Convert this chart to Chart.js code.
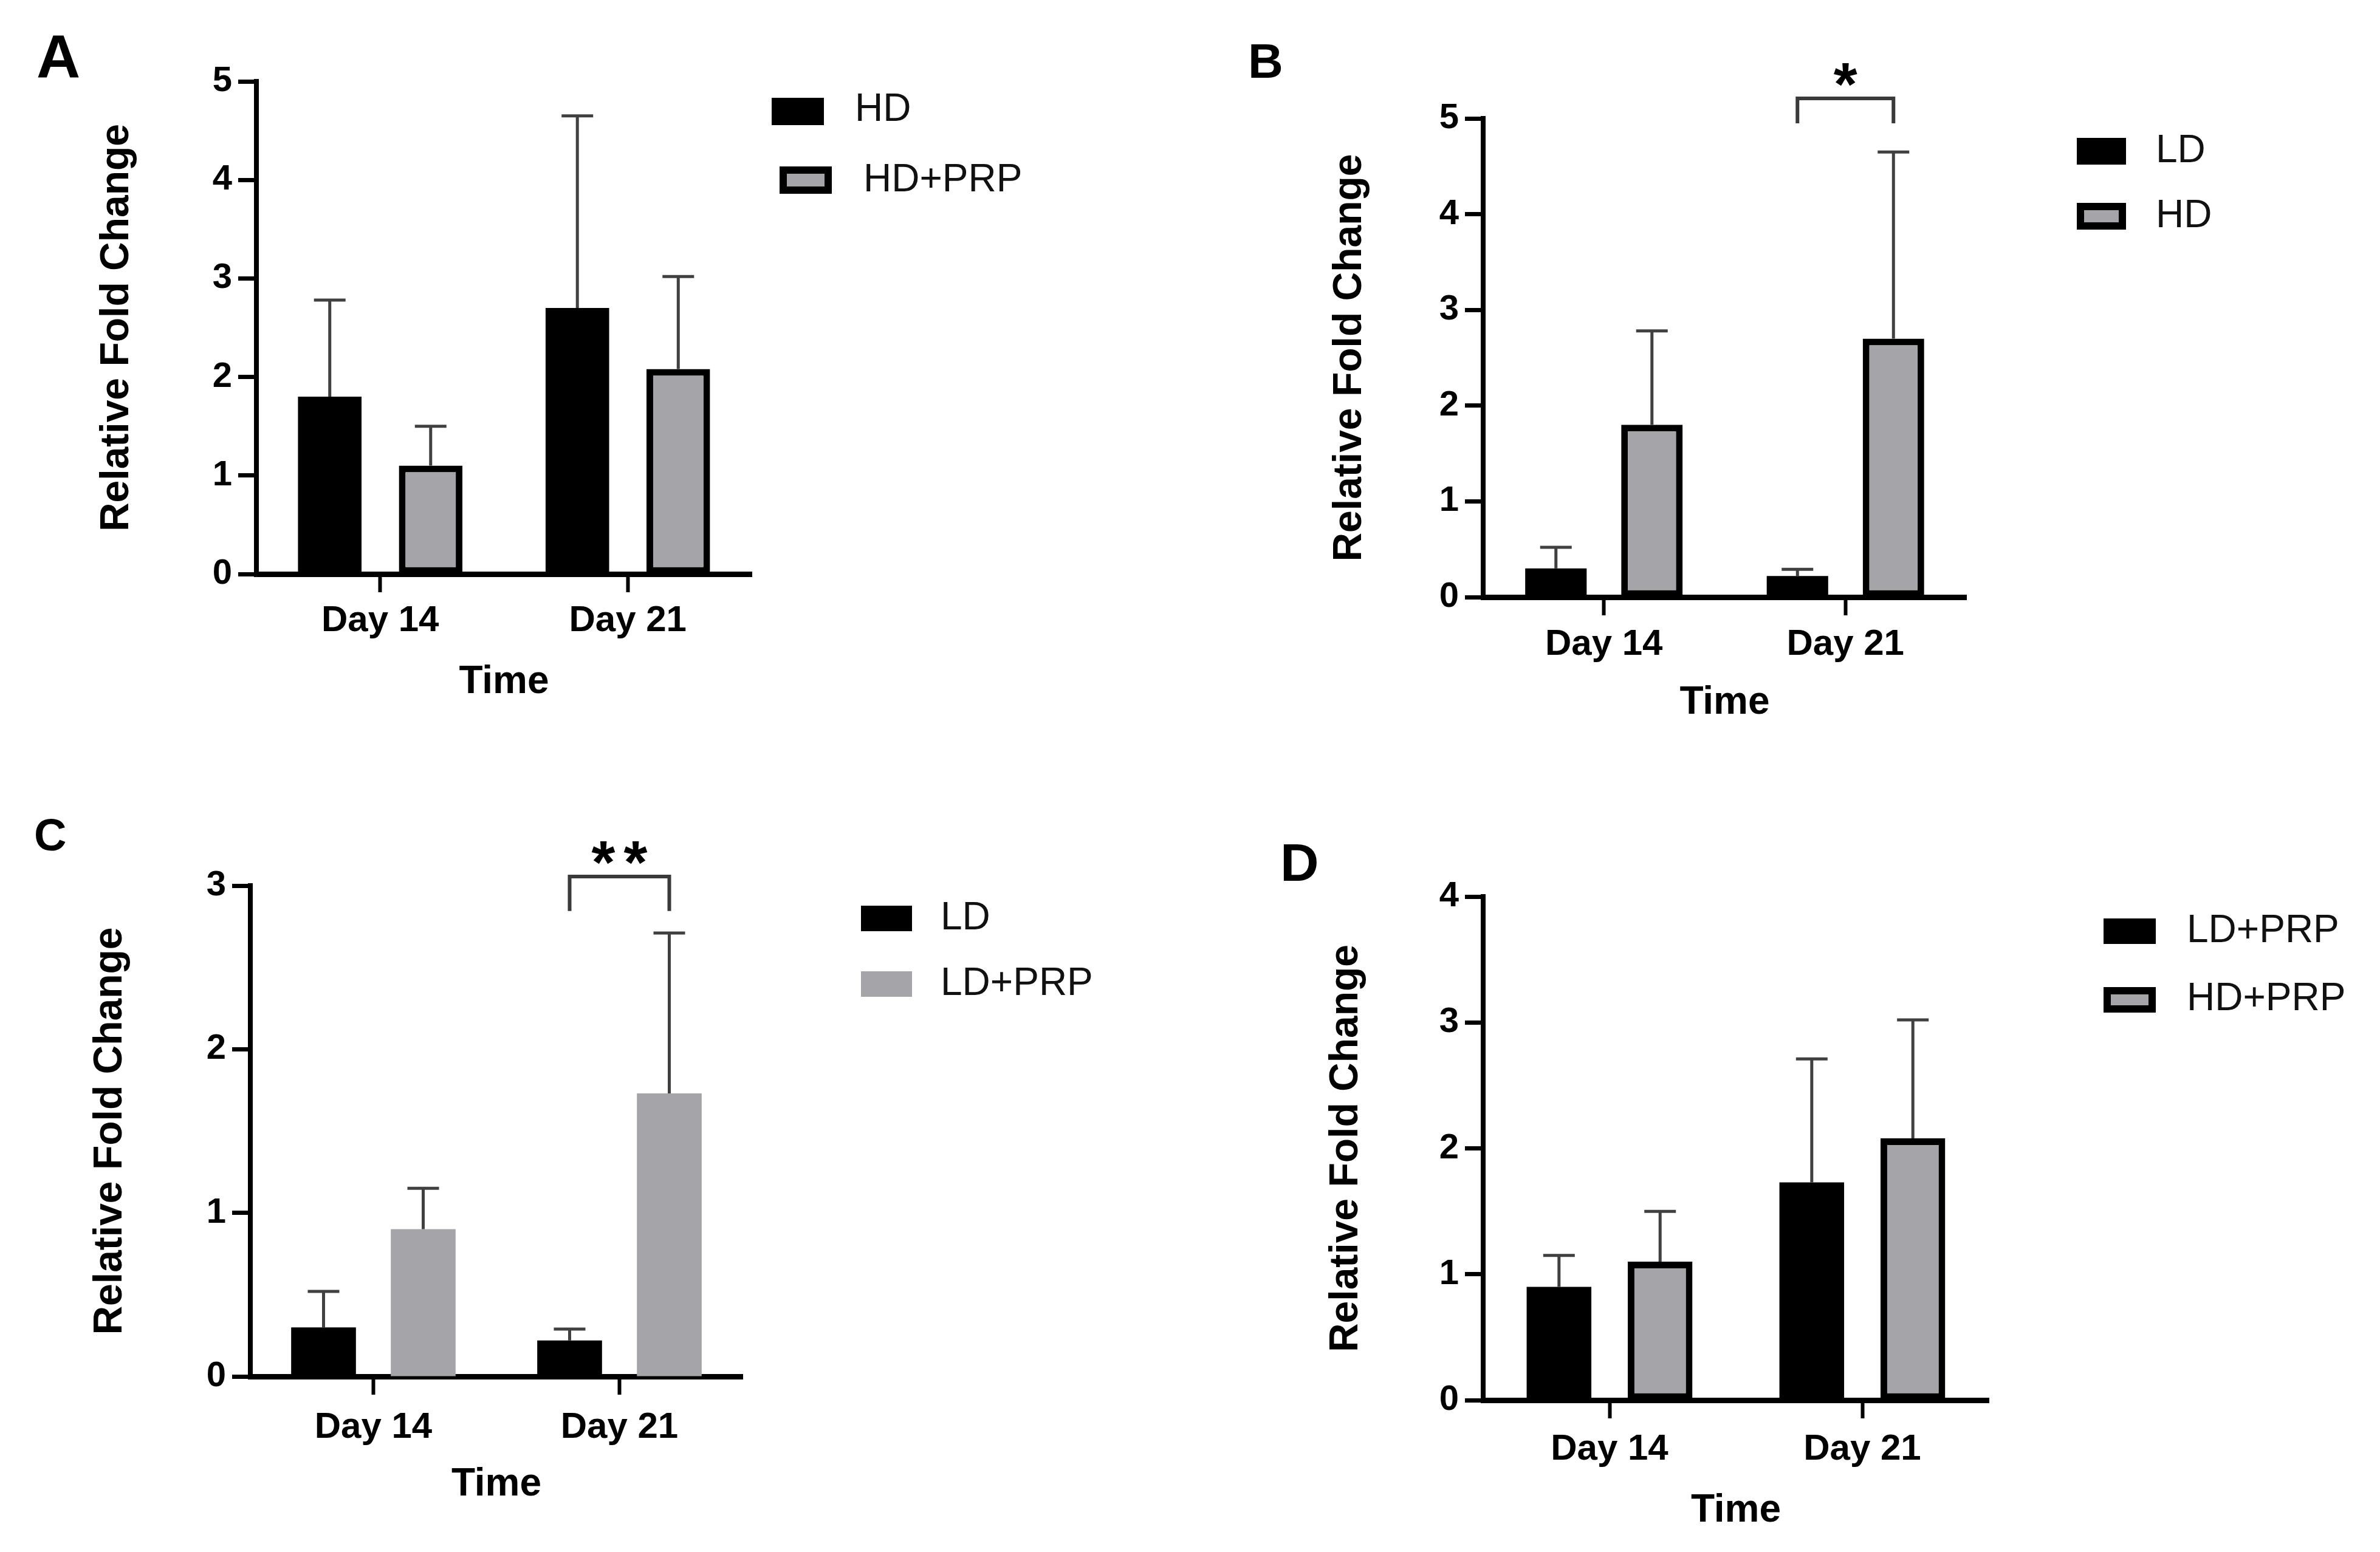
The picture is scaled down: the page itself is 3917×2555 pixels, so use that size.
<!DOCTYPE html>
<html>
<head>
<meta charset="utf-8">
<title>Relative Fold Change</title>
<script src="https://cdn.jsdelivr.net/npm/chart.js@4.4.1/dist/chart.umd.min.js"></script>
<style>
  html, body { margin: 0; padding: 0; background: #fff; }
  body { width: 3917px; height: 2555px; position: relative; overflow: hidden; }
  canvas { position: absolute; }
</style>
</head>
<body>
<canvas id="panelA" width="1958" height="1260" style="left:0;top:0"></canvas>
<canvas id="panelB" width="1959" height="1260" style="left:1958px;top:0"></canvas>
<canvas id="panelC" width="1958" height="1295" style="left:0;top:1260px"></canvas>
<canvas id="panelD" width="1959" height="1295" style="left:1958px;top:1260px"></canvas>
<script>
// data (mean and upper error)
const timeLabels = ["Day 14", "Day 21"];
const hdMean = [1.8, 2.7];
const hdErr = [0.98, 1.95];
const hdPrpMean = [1.1, 2.08];
const hdPrpErr = [0.4, 0.94];
const ldMean = [0.3, 0.22];
const ldErr = [0.22, 0.07];
const ldPrpMean = [0.9, 1.73];
const ldPrpErr = [0.25, 0.98];
const yMaxA = 5, yMaxB = 5, yMaxC = 3, yMaxD = 4;
// significance brackets: [leg end, bracket top, star level]
const sigLevelsB = [4.95, 5.21, 5.565];
const sigLevelsC = [2.845, 3.056, 3.264];

const BLACK = "#000000";
const GRAY = "#a5a4a9";
const FONT = "'Liberation Sans', Arial, sans-serif";

Chart.defaults.font.family = FONT;
Chart.defaults.color = "#000";

const errorBars = {
  id: "errorBars",
  afterDatasetsDraw(chart) {
    const ctx = chart.ctx;
    const y = chart.scales.y;
    chart.data.datasets.forEach((ds, i) => {
      const meta = chart.getDatasetMeta(i);
      meta.data.forEach((bar, j) => {
        const base = y.getPixelForValue(ds.data[j]);
        const top = y.getPixelForValue(ds.data[j] + ds.errors[j]);
        ctx.save();
        ctx.strokeStyle = "#404040";
        ctx.lineWidth = 5;
        ctx.beginPath();
        ctx.moveTo(bar.x, base);
        ctx.lineTo(bar.x, top);
        ctx.moveTo(bar.x - 26, top);
        ctx.lineTo(bar.x + 26, top);
        ctx.stroke();
        ctx.restore();
      });
    });
  },
};

const sigBracket = {
  id: "sigBracket",
  afterDraw(chart, args, opts) {
    if (!opts || !opts.levels) return;
    const ctx = chart.ctx;
    const y = chart.scales.y;
    const x0 = chart.getDatasetMeta(0).data[opts.index].x;
    const x1 = chart.getDatasetMeta(1).data[opts.index].x;
    const legY = y.getPixelForValue(opts.levels[0]);
    const topY = y.getPixelForValue(opts.levels[1]);
    const starY = y.getPixelForValue(opts.levels[2]);
    ctx.save();
    ctx.strokeStyle = "#3a3a3a";
    ctx.lineWidth = 6;
    ctx.beginPath();
    ctx.moveTo(x0, legY);
    ctx.lineTo(x0, topY);
    ctx.lineTo(x1, topY);
    ctx.lineTo(x1, legY);
    ctx.stroke();
    ctx.fillStyle = "#000";
    ctx.font = `bold ${opts.size}px ${FONT}`;
    ctx.textAlign = "center";
    ctx.textBaseline = "alphabetic";
    ctx.letterSpacing = opts.spacing + "px";
    ctx.fillText(opts.text, (x0 + x1) / 2 + opts.spacing / 2, starY + opts.size * 0.67);
    ctx.restore();
  },
};

const panelDecor = {
  id: "panelDecor",
  afterDraw(chart, args, opts) {
    const ctx = chart.ctx;
    ctx.save();
    // panel letter
    ctx.fillStyle = "#000";
    ctx.font = `bold ${opts.letter.size}px ${FONT}`;
    ctx.textAlign = "left";
    ctx.textBaseline = "alphabetic";
    ctx.fillText(opts.letter.text, opts.letter.x, opts.letter.y);
    // legend
    chart.data.datasets.forEach((ds, i) => {
      const it = opts.legend[i];
      ctx.fillStyle = ds.backgroundColor;
      ctx.fillRect(it.x, it.y, it.w, it.h);
      if (ds.borderWidth > 0) {
        const b = 12;
        ctx.strokeStyle = BLACK;
        ctx.lineWidth = b;
        ctx.strokeRect(it.x + b / 2, it.y + b / 2, it.w - b, it.h - b);
      }
      ctx.fillStyle = "#111";
      ctx.font = `64px ${FONT}`;
      ctx.textBaseline = "middle";
      ctx.fillText(ds.label, it.tx, it.ty);
    });
    ctx.restore();
  },
};

function makeSeries(label, mean, err, fill, border) {
  return { label, mean, err, fill, border };
}

function makePanel(id, p) {
  const datasets = p.series.map((s) => ({
    label: s.label,
    data: s.mean,
    errors: s.err,
    backgroundColor: s.fill,
    borderColor: BLACK,
    borderWidth: s.border,
    borderSkipped: false,
    categoryPercentage: p.catPct,
    barPercentage: p.barPct,
  }));

  return new Chart(document.getElementById(id), {
    type: "bar",
    data: { labels: timeLabels, datasets },
    options: {
      responsive: false,
      animation: false,
      devicePixelRatio: 1,
      layout: { padding: p.pad },
      plugins: {
        legend: { display: false },
        tooltip: { enabled: false },
        panelDecor: { letter: p.letter, legend: p.legend },
        sigBracket: p.sig || false,
      },
      scales: {
        x: {
          offset: true,
          grid: {
            display: true,
            offset: false,
            drawOnChartArea: false,
            drawTicks: true,
            tickLength: 30,
            tickWidth: 6,
            tickColor: BLACK,
          },
          border: { display: true, width: 9, color: BLACK },
          ticks: {
            color: BLACK,
            font: { size: 60, weight: "bold" },
            padding: p.xPad,
            maxRotation: 0,
            minRotation: 0,
            autoSkip: false,
          },
          title: {
            display: true,
            text: "Time",
            color: BLACK,
            font: { size: 64, weight: "bold" },
            padding: 0,
          },
          afterFit: (s) => {
            s.height = p.xH;
          },
        },
        y: {
          min: 0,
          max: p.yMax,
          ticks: {
            stepSize: 1,
            color: BLACK,
            font: { size: 58, weight: "bold" },
            padding: 10,
          },
          grid: {
            drawOnChartArea: false,
            drawTicks: true,
            tickLength: 30,
            tickWidth: 7,
            tickColor: BLACK,
          },
          border: { display: true, width: 8, color: BLACK },
          title: {
            display: true,
            text: "Relative Fold Change",
            color: BLACK,
            font: { size: 66, weight: "bold" },
            padding: 0,
          },
          afterFit: (s) => {
            s.width = p.yW;
          },
        },
      },
    },
    plugins: [errorBars, sigBracket, panelDecor],
  });
}

makePanel("panelA", {
  series: [
    makeSeries("HD", hdMean, hdErr, BLACK, 0),
    makeSeries("HD+PRP", hdPrpMean, hdPrpErr, GRAY, 11),
  ],
  yMax: yMaxA,
  catPct: 0.815,
  barPct: 0.63,
  pad: { left: 153, right: 721, top: 134, bottom: 98 },
  yW: 269,
  xH: 217,
  xPad: 11,
  letter: { text: "A", x: 60, y: 128, size: 100 },
  legend: [
    { x: 1270, y: 161, w: 86, h: 45, tx: 1407, ty: 181 },
    { x: 1283, y: 274, w: 86, h: 45, tx: 1421, ty: 297 },
  ],
});

makePanel("panelB", {
  series: [
    makeSeries("LD", ldMean, ldErr, BLACK, 0),
    makeSeries("HD", hdMean, hdErr, GRAY, 11),
  ],
  yMax: yMaxB,
  catPct: 0.795,
  barPct: 0.64,
  pad: { left: 224, right: 681, top: 195, bottom: 64 },
  yW: 259,
  xH: 213,
  xPad: 12,
  letter: { text: "B", x: 96, y: 128, size: 80 },
  legend: [
    { x: 1460, y: 227, w: 81, h: 44, tx: 1590, ty: 249 },
    { x: 1460, y: 334, w: 81, h: 44, tx: 1590, ty: 356 },
  ],
  sig: { index: 1, levels: sigLevelsB, text: "*", size: 100, spacing: 0 },
});

makePanel("panelC", {
  series: [
    makeSeries("LD", ldMean, ldErr, BLACK, 0),
    makeSeries("LD+PRP", ldPrpMean, ldPrpErr, GRAY, 0),
  ],
  yMax: yMaxC,
  catPct: 0.81,
  barPct: 0.65,
  pad: { left: 142, right: 736, top: 198, bottom: 72 },
  yW: 270,
  xH: 217,
  xPad: 18,
  letter: { text: "C", x: 56, y: 140, size: 74 },
  legend: [
    { x: 1417, y: 231, w: 84, h: 42, tx: 1548, ty: 252 },
    { x: 1417, y: 339, w: 84, h: 42, tx: 1548, ty: 360 },
  ],
  sig: { index: 1, levels: sigLevelsC, text: "**", size: 100, spacing: 14 },
});

makePanel("panelD", {
  series: [
    makeSeries("LD+PRP", ldPrpMean, ldPrpErr, BLACK, 0),
    makeSeries("HD+PRP", hdPrpMean, hdPrpErr, GRAY, 11),
  ],
  yMax: yMaxD,
  catPct: 0.8,
  barPct: 0.64,
  pad: { left: 218, right: 644, top: 216, bottom: 29 },
  yW: 265,
  xH: 221,
  xPad: 15,
  letter: { text: "D", x: 149, y: 190, size: 88 },
  legend: [
    { x: 1504, y: 252, w: 86, h: 42, tx: 1641, ty: 273 },
    { x: 1504, y: 365, w: 86, h: 42, tx: 1641, ty: 385 },
  ],
});
</script>
</body>
</html>
